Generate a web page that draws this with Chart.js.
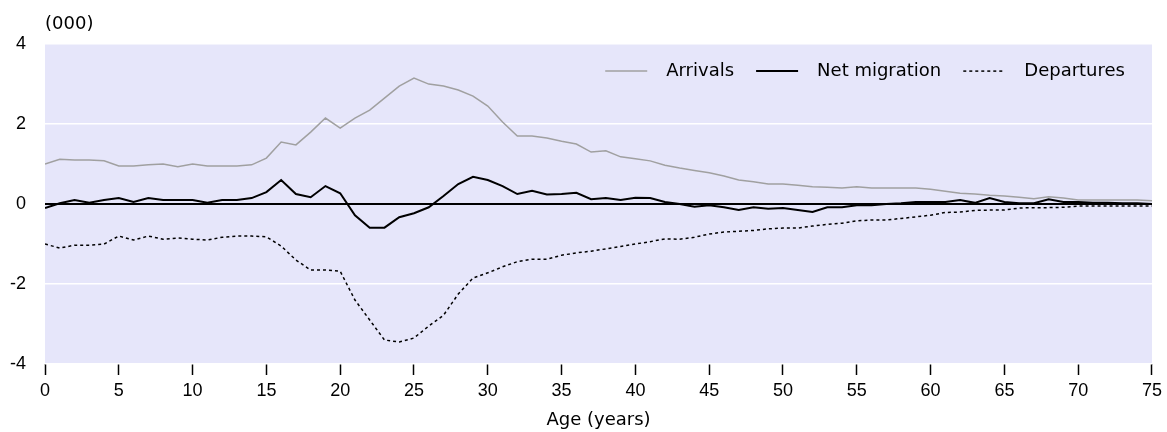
<!DOCTYPE html>
<html>
<head>
<meta charset="utf-8">
<script src="https://cdn.jsdelivr.net/npm/chart.js@4"></script>
<style>
  html, body { margin: 0; padding: 0; background: #fff; }
  #wrap { width: 1167px; height: 432px; }
</style>
</head>
<body>
<div id="wrap"><canvas id="c" width="1167" height="432"></canvas></div>
<script>
const ages = [0,1,2,3,4,5,6,7,8,9,10,11,12,13,14,15,16,17,18,19,20,21,22,23,24,25,26,27,28,29,30,31,32,33,34,35,36,37,38,39,40,41,42,43,44,45,46,47,48,49,50,51,52,53,54,55,56,57,58,59,60,61,62,63,64,65,66,67,68,69,70,71,72,73,74,75];

const arrivals = [1.0,1.12,1.1,1.1,1.08,0.95,0.95,0.98,1.0,0.93,1.0,0.95,0.95,0.95,0.98,1.15,1.55,1.48,1.8,2.15,1.9,2.15,2.35,2.65,2.95,3.15,3.0,2.95,2.85,2.7,2.45,2.05,1.7,1.7,1.65,1.57,1.5,1.3,1.33,1.18,1.13,1.08,0.97,0.9,0.84,0.78,0.7,0.6,0.56,0.5,0.5,0.47,0.43,0.42,0.4,0.43,0.4,0.4,0.4,0.4,0.37,0.32,0.27,0.25,0.22,0.2,0.17,0.13,0.18,0.15,0.1,0.1,0.1,0.1,0.1,0.08];

const netMigration = [-0.1,0.02,0.1,0.03,0.1,0.15,0.05,0.15,0.1,0.1,0.1,0.03,0.1,0.1,0.15,0.3,0.6,0.25,0.17,0.45,0.27,-0.28,-0.59,-0.59,-0.33,-0.23,-0.08,0.2,0.5,0.68,0.6,0.45,0.25,0.33,0.24,0.25,0.28,0.12,0.15,0.1,0.16,0.15,0.05,0.0,-0.07,-0.03,-0.08,-0.15,-0.08,-0.12,-0.1,-0.15,-0.2,-0.08,-0.08,-0.03,-0.03,0.0,0.02,0.05,0.05,0.05,0.1,0.03,0.15,0.05,0.02,0.02,0.12,0.05,0.05,0.03,0.03,0.02,0.02,0.0];

const departures = [-1.0,-1.1,-1.03,-1.03,-1.0,-0.8,-0.9,-0.8,-0.88,-0.85,-0.88,-0.9,-0.83,-0.8,-0.8,-0.82,-1.05,-1.4,-1.65,-1.65,-1.68,-2.4,-2.9,-3.4,-3.45,-3.35,-3.05,-2.78,-2.25,-1.85,-1.72,-1.57,-1.44,-1.38,-1.38,-1.28,-1.22,-1.18,-1.12,-1.06,-1.0,-0.94,-0.87,-0.88,-0.83,-0.75,-0.7,-0.68,-0.66,-0.62,-0.6,-0.6,-0.55,-0.51,-0.48,-0.42,-0.4,-0.4,-0.36,-0.32,-0.28,-0.21,-0.2,-0.16,-0.15,-0.15,-0.1,-0.09,-0.09,-0.08,-0.05,-0.05,-0.05,-0.05,-0.05,-0.05];

const seriesNames = ['Arrivals', 'Net migration', 'Departures'];
const xTickValues = [0,5,10,15,20,25,30,35,40,45,50,55,60,65,70,75];
const yTickValues = [-4,-2,0,2,4];
const unitLabel = '(000)';
const xAxisTitle = 'Age (years)';

const toPoints = arr => ages.map((a, i) => ({ x: a, y: arr[i] }));

const bgPlugin = {
  id: 'plotBg',
  beforeDraw(chart) {
    const { ctx, chartArea: a } = chart;
    ctx.save();
    ctx.fillStyle = '#e6e6fa';
    ctx.fillRect(a.left, a.top, a.right - a.left, a.bottom - a.top);
    ctx.restore();
  }
};

// Legend drawn inside the plot area, in one row, right-aligned
const insideLegend = {
  id: 'insideLegend',
  afterDatasetsDraw(chart) {
    const { ctx, chartArea: a } = chart;
    const sample = 42, gapText = 19, gapItem = 22, rightPad = 27, cy = a.top + 27;
    ctx.save();
    ctx.font = '18px "DejaVu Sans"';
    ctx.textBaseline = 'middle';
    ctx.textAlign = 'left';
    const items = chart.data.datasets.map(ds => ({ ds, w: ctx.measureText(ds.label).width }));
    const total = items.reduce((s, it) => s + sample + gapText + it.w, 0) + gapItem * (items.length - 1);
    let x = a.right - rightPad - total;
    items.forEach(it => {
      const ds = it.ds;
      ctx.beginPath();
      ctx.strokeStyle = ds.borderColor;
      ctx.lineWidth = ds.borderWidth;
      ctx.setLineDash(ds.borderDash || []);
      ctx.moveTo(x, cy);
      ctx.lineTo(x + sample, cy);
      ctx.stroke();
      ctx.setLineDash([]);
      ctx.fillStyle = '#000';
      ctx.fillText(ds.label, x + sample + gapText, cy);
      x += sample + gapText + it.w + gapItem;
    });
    ctx.restore();
  }
};

const labelFont = { family: 'DejaVu Sans', size: 18 };
const tickFont = { family: 'Liberation Sans', size: 18 };

new Chart(document.getElementById('c'), {
  type: 'line',
  data: {
    datasets: [
      { label: seriesNames[0], data: toPoints(arrivals), borderColor: '#a0a0a0', borderWidth: 1.5, pointRadius: 0, tension: 0 },
      { label: seriesNames[1], data: toPoints(netMigration), borderColor: '#000000', borderWidth: 2, pointRadius: 0, tension: 0 },
      { label: seriesNames[2], data: toPoints(departures), borderColor: '#000000', borderWidth: 1.5, borderDash: [3, 3], pointRadius: 0, tension: 0 }
    ]
  },
  options: {
    responsive: false,
    animation: false,
    devicePixelRatio: 1,
    layout: { padding: { left: 0, right: 13, top: 0, bottom: 0 } },
    plugins: {
      tooltip: { enabled: false },
      legend: { display: false },
      title: {
        display: true,
        text: unitLabel,
        align: 'start',
        fullSize: false,
        color: '#000',
        font: { family: 'DejaVu Sans', size: 18, weight: 'normal' },
        padding: { top: 13.5, bottom: 9 }
      }
    },
    scales: {
      x: {
        type: 'linear',
        min: 0,
        max: 75,
        afterFit(s) { s.height = 68; },
        afterBuildTicks(s) { s.ticks = xTickValues.map(v => ({ value: v })); },
        border: { display: false },
        grid: { drawOnChartArea: false, drawTicks: true, tickLength: 11, tickColor: '#000', tickWidth: 1.5 },
        ticks: { color: '#000', font: tickFont, padding: 5, maxRotation: 0, autoSkip: false },
        title: { display: true, text: xAxisTitle, color: '#000', font: labelFont, padding: { top: 0, bottom: 1 } }
      },
      y: {
        min: -4,
        max: 4,
        afterFit(s) { s.width = 45; },
        afterBuildTicks(s) { s.ticks = yTickValues.map(v => ({ value: v })); },
        border: { display: false },
        grid: {
          drawTicks: false,
          color: ctx => ctx.tick && ctx.tick.value === 0 ? '#000000' : '#ffffff',
          lineWidth: ctx => ctx.tick && ctx.tick.value === 0 ? 2 : 1.5
        },
        ticks: { color: '#000', font: tickFont, padding: 19 }
      }
    }
  },
  plugins: [bgPlugin, insideLegend]
});
</script>
</body>
</html>
